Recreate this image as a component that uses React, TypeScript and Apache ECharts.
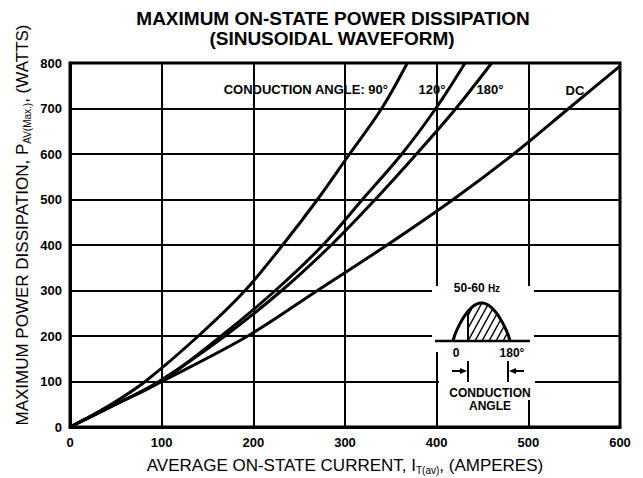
import React, { useEffect, useRef } from 'react';
import * as echarts from 'echarts';

// Power levels (W) at which the current of each curve was read
const powerLevels = [0, 50, 100, 200, 300, 400, 500, 600, 700, 800];
const current90 = [0, 45, 82, 140, 191, 232, 270, 305, 340, 368];
const current120 = [0, 50, 99, 165, 224, 276, 319, 362, 399, 431];
const current180 = [0, 50, 97, 169, 231, 285, 333, 378, 421, 460];
const dcPower = [0, 50, 100, 200, 300, 400, 500, 600, 700, 793];
const currentDC = [0, 50, 100, 194, 270, 346, 418, 484, 544, 600];

const seriesNames = ['90°', '120°', '180°', 'DC'];
const titleLines = ['MAXIMUM ON-STATE POWER DISSIPATION', '(SINUSOIDAL WAVEFORM)'];

const FONT = '"Liberation Sans", Arial, Helvetica, sans-serif';

function pairs(xs: number[], ys: number[]) {
  return xs.map((x, i) => [x, ys[i]]);
}

function buildInset(): any[] {
  const els: any[] = [];
  const x0 = 453, x1 = 510, base = 341, amp = 38, xc = 468;
  const curveY = (x: number) => base - amp * Math.pow(Math.sin((Math.PI * (x - x0)) / (x1 - x0)), 0.8);
  // white boxes interrupting the grid
  els.push({ type: 'rect', shape: { x: 432, y: 286, width: 102, height: 66 }, style: { fill: '#fff' }, z: 100 });
  els.push({ type: 'rect', shape: { x: 439, y: 350, width: 96, height: 50 }, style: { fill: '#fff' }, z: 100 });
  els.push({ type: 'rect', shape: { x: 439, y: 398, width: 87, height: 14 }, style: { fill: '#fff' }, z: 100 });
  els.push({ type: 'text', style: { text: '{a|50-60 }{b|Hz}', rich: { a: { fontSize: 12, fontWeight: 'bold', fontFamily: FONT }, b: { fontSize: 10, fontWeight: 'bold', fontFamily: FONT } }, x: 477, y: 288, align: 'center', verticalAlign: 'middle', fill: '#000' }, z: 101 });
  // baseline
  els.push({ type: 'line', shape: { x1: 435, y1: base, x2: 530, y2: base }, style: { stroke: '#000', lineWidth: 2.5 }, z: 101 });
  // half sine outline
  const pts: number[][] = [];
  for (let i = 0; i <= 40; i++) {
    const x = x0 + ((x1 - x0) * i) / 40;
    pts.push([x, curveY(x)]);
  }
  els.push({ type: 'polyline', shape: { points: pts }, style: { stroke: '#000', lineWidth: 3, fill: 'none' }, z: 102 });
  els.push({ type: 'line', shape: { x1: xc, y1: base, x2: xc, y2: curveY(xc) }, style: { stroke: '#000', lineWidth: 2 }, z: 102 });
  // hatching
  for (let c = 440; c <= 512; c += 7) {
    let first: number[] | null = null;
    let last: number[] | null = null;
    for (let y = base; y >= base - amp - 2; y -= 0.25) {
      const x = c + (base - y) * 0.55;
      if (x >= xc && x <= x1 - 0.5 && y >= curveY(x)) {
        if (!first) first = [x, y];
        last = [x, y];
      }
    }
    if (first && last && (first[1] - last[1]) > 2) {
      els.push({ type: 'line', shape: { x1: first[0], y1: first[1], x2: last[0], y2: last[1] }, style: { stroke: '#000', lineWidth: 1.5 }, z: 101 });
    }
  }
  const bold12 = { fontSize: 12, fontWeight: 'bold', fontFamily: FONT, fill: '#000' };
  els.push({ type: 'text', style: { ...bold12, text: '0', x: 456, y: 353, align: 'center', verticalAlign: 'middle' }, z: 101 });
  els.push({ type: 'text', style: { ...bold12, text: '180°', x: 512, y: 353, align: 'center', verticalAlign: 'middle' }, z: 101 });
  // conduction angle markers
  els.push({ type: 'line', shape: { x1: 468, y1: 361, x2: 468, y2: 382 }, style: { stroke: '#000', lineWidth: 2 }, z: 101 });
  els.push({ type: 'line', shape: { x1: 508, y1: 361, x2: 508, y2: 382 }, style: { stroke: '#000', lineWidth: 2 }, z: 101 });
  els.push({ type: 'line', shape: { x1: 452, y1: 371, x2: 462, y2: 371 }, style: { stroke: '#000', lineWidth: 2 }, z: 101 });
  els.push({ type: 'polygon', shape: { points: [[467, 371], [460, 368], [460, 374]] }, style: { fill: '#000' }, z: 101 });
  els.push({ type: 'line', shape: { x1: 514, y1: 371, x2: 524, y2: 371 }, style: { stroke: '#000', lineWidth: 2 }, z: 101 });
  els.push({ type: 'polygon', shape: { points: [[509, 371], [516, 368], [516, 374]] }, style: { fill: '#000' }, z: 101 });
  els.push({ type: 'text', style: { ...bold12, text: 'CONDUCTION', x: 490, y: 393, align: 'center', verticalAlign: 'middle' }, z: 101 });
  els.push({ type: 'text', style: { ...bold12, text: 'ANGLE', x: 490, y: 406, align: 'center', verticalAlign: 'middle' }, z: 101 });
  return els;
}

export default function App() {
  const ref = useRef<HTMLDivElement>(null);
  useEffect(() => {
    if (!ref.current) return;
    const chart = echarts.init(ref.current, undefined, { renderer: 'svg' });
    const lineStyle = { color: '#000', width: 3 };
    const mk = (name: string, data: number[][]) => ({
      name,
      type: 'line',
      data,
      showSymbol: false,
      symbol: 'none',
      smooth: 0.35,
      lineStyle,
      itemStyle: { color: '#000' },
      z: 5,
    });
    const labelBold = { fontSize: 13, fontWeight: 'bold', fontFamily: FONT, fill: '#000' };
    const nameRich = {
      a: { fontSize: 17, fontFamily: FONT, color: '#000', lineHeight: 20, verticalAlign: 'middle' },
      s: { fontSize: 10, fontFamily: FONT, color: '#000', lineHeight: 12, verticalAlign: 'bottom' },
    };
    chart.setOption({
      animation: false,
      backgroundColor: '#fff',
      grid: { left: 70, right: 23, top: 63, bottom: 51, show: true, borderColor: '#000', borderWidth: 3, containLabel: false },
      xAxis: {
        type: 'value', min: 0, max: 600, interval: 100,
        axisLine: { show: true, lineStyle: { color: '#000', width: 3 } },
        axisTick: { show: false },
        splitLine: { show: true, lineStyle: { color: '#000', width: 2 } },
        axisLabel: { color: '#000', fontSize: 13, fontWeight: 'bold', fontFamily: FONT, margin: 9 },
      },
      yAxis: {
        type: 'value', min: 0, max: 800, interval: 100,
        axisLine: { show: true, lineStyle: { color: '#000', width: 3 } },
        axisTick: { show: false },
        splitLine: { show: true, lineStyle: { color: '#000', width: 2 } },
        axisLabel: { color: '#000', fontSize: 13, fontWeight: 'bold', fontFamily: FONT, margin: 8 },
      },
      series: [
        mk(seriesNames[0], pairs(current90, powerLevels)),
        mk(seriesNames[1], pairs(current120, powerLevels)),
        mk(seriesNames[2], pairs(current180, powerLevels)),
        mk(seriesNames[3], pairs(currentDC, dcPower)),
      ],
      graphic: [
        { type: 'text', style: { text: titleLines[0], x: 333, y: 18, align: 'center', verticalAlign: 'middle', fontSize: 19, fontWeight: 'bold', fontFamily: FONT, fill: '#000' } },
        { type: 'text', style: { text: titleLines[1], x: 332, y: 38, align: 'center', verticalAlign: 'middle', fontSize: 19, fontWeight: 'bold', fontFamily: FONT, fill: '#000' } },
        { type: 'text', style: { text: '{a|AVERAGE ON-STATE CURRENT, I}{s|T(av)}{a|, (AMPERES)}', rich: nameRich, x: 345, y: 465, align: 'center', verticalAlign: 'middle' } },
        { type: 'text', rotation: Math.PI / 2, x: 22, y: 225, style: { text: '{a|MAXIMUM POWER DISSIPATION, P}{s|AV(Max.)}{a|, (WATTS)}', rich: nameRich, x: 0, y: 0, align: 'center', verticalAlign: 'middle' } },
        { type: 'text', style: { ...labelBold, text: 'CONDUCTION ANGLE: 90°', x: 388, y: 89, align: 'right', verticalAlign: 'middle' }, z: 10 },
        { type: 'text', style: { ...labelBold, text: '120°', x: 432, y: 89, align: 'center', verticalAlign: 'middle' }, z: 10 },
        { type: 'text', style: { ...labelBold, text: '180°', x: 490, y: 89, align: 'center', verticalAlign: 'middle' }, z: 10 },
        { type: 'text', style: { ...labelBold, text: 'DC', x: 575, y: 90, align: 'center', verticalAlign: 'middle' }, z: 10 },
        ...buildInset(),
      ],
    });
    return () => chart.dispose();
  }, []);
  return <div ref={ref} style={{ position: 'fixed', left: 0, top: 0, width: 643, height: 478, background: '#fff' }} />;
}
